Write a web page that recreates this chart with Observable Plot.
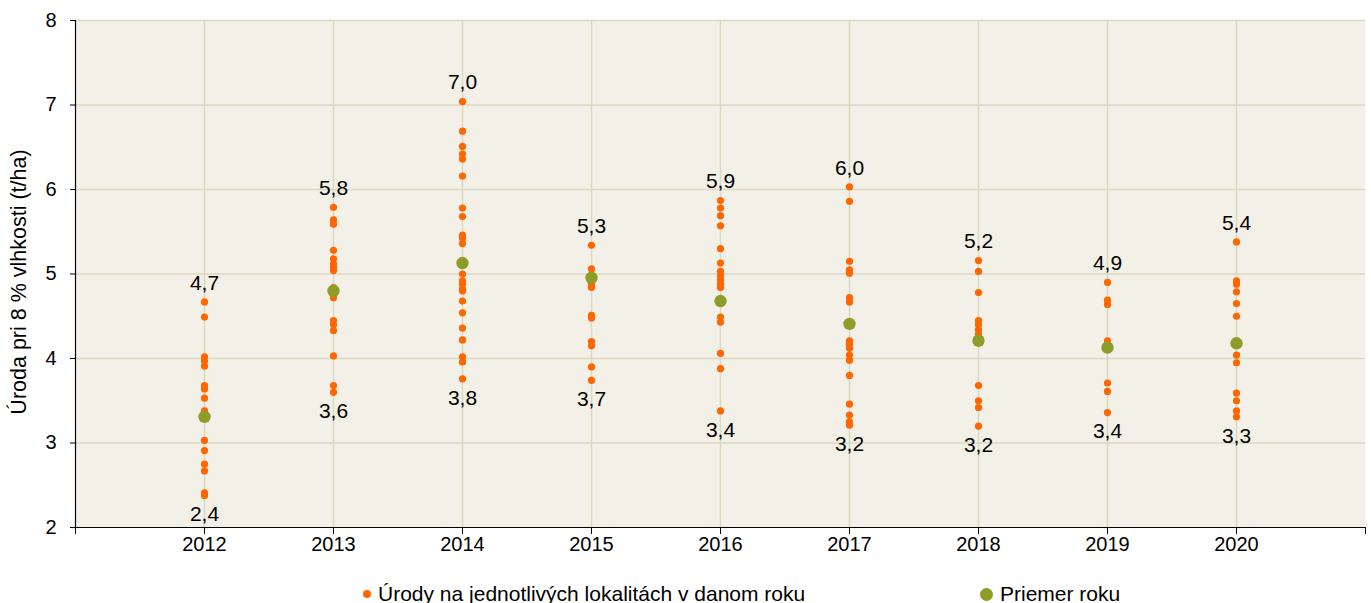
<!DOCTYPE html>
<html>
<head>
<meta charset="utf-8">
<script src="https://cdn.jsdelivr.net/npm/d3@7"></script>
<script src="https://cdn.jsdelivr.net/npm/@observablehq/plot@0.6"></script>
<style>
  html, body { margin: 0; padding: 0; background: #fff; }
  body { width: 1371px; height: 603px; position: relative; overflow: hidden; font-family: "Liberation Sans", Arial, sans-serif; }
  #legend { position: absolute; left: 0; top: 582px; width: 1371px; height: 25px; font-size: 21px; color: #000; }
  .item { position: absolute; top: 0px; display: flex; align-items: center; white-space: nowrap; }
  .sw { display: inline-block; border-radius: 50%; margin-right: 7px; }
</style>
</head>
<body>
<div id="chart"></div>
<div id="legend">
  <div class="item" style="left:363px"><span class="sw" style="width:8px;height:8px;background:#FF6600"></span><span id="lg1"></span></div>
  <div class="item" style="left:980px"><span class="sw" style="width:13px;height:13px;background:#8E9D2A"></span><span id="lg2"></span></div>
</div>
<script>
const years = [2012, 2013, 2014, 2015, 2016, 2017, 2018, 2019, 2020];

const y2012 = [4.67, 4.49, 4.02, 3.97, 3.91, 3.68, 3.64, 3.53, 3.38, 3.03, 2.91, 2.75, 2.67, 2.41, 2.38];
const y2013 = [5.79, 5.64, 5.59, 5.28, 5.18, 5.12, 5.08, 5.04, 4.84, 4.72, 4.45, 4.40, 4.33, 4.03, 3.68, 3.60];
const y2014 = [7.04, 6.69, 6.51, 6.42, 6.36, 6.16, 5.78, 5.68, 5.46, 5.42, 5.36, 5.00, 4.92, 4.88, 4.82, 4.80, 4.68, 4.54, 4.36, 4.22, 4.02, 3.96, 3.76];
const y2015 = [5.34, 5.06, 4.88, 4.84, 4.51, 4.48, 4.20, 4.15, 3.90, 3.74];
const y2016 = [5.87, 5.78, 5.69, 5.57, 5.30, 5.13, 5.03, 4.98, 4.93, 4.88, 4.84, 4.49, 4.43, 4.06, 3.88, 3.38];
const y2017 = [6.03, 5.86, 5.15, 5.05, 5.01, 4.72, 4.67, 4.21, 4.17, 4.12, 4.04, 3.98, 3.80, 3.46, 3.33, 3.25, 3.21];
const y2018 = [5.16, 5.03, 4.78, 4.45, 4.40, 4.34, 4.29, 3.68, 3.50, 3.42, 3.20];
const y2019 = [4.90, 4.69, 4.64, 4.21, 3.71, 3.61, 3.36];
const y2020 = [5.38, 4.92, 4.88, 4.79, 4.65, 4.50, 4.04, 3.95, 3.59, 3.50, 3.38, 3.31];
const siteYields = [y2012, y2013, y2014, y2015, y2016, y2017, y2018, y2019, y2020];

const yearMeans = [3.31, 4.80, 5.13, 4.955, 4.68, 4.41, 4.21, 4.13, 4.18];
const maxLabels = [4.7, 5.8, 7.0, 5.3, 5.9, 6.0, 5.2, 4.9, 5.4];
const minLabels = [2.4, 3.6, 3.8, 3.7, 3.4, 3.2, 3.2, 3.4, 3.3];

const yTicks = [2, 3, 4, 5, 6, 7, 8];
const yTitle = "Úroda pri 8 % vlhkosti (t/ha)";
const legendSites = "Úrody na jednotlivých lokalitách v danom roku";
const legendMean = "Priemer roku";

document.getElementById("lg1").textContent = legendSites;
document.getElementById("lg2").textContent = legendMean;

const points = years.flatMap((yr, i) => siteYields[i].map(v => ({year: yr, value: v})));
const means = years.map((yr, i) => ({year: yr, value: yearMeans[i]}));
const fmt = v => d3.format(".1f")(v).replace(".", ",");
const maxData = years.map((yr, i) => ({year: yr, value: d3.max(siteYields[i]), label: fmt(maxLabels[i])}));
const minData = years.map((yr, i) => ({year: yr, value: d3.min(siteYields[i]), label: fmt(minLabels[i])}));

const grid = "#DCD8C2";

const chart = Plot.plot({
  width: 1371,
  height: 560,
  marginLeft: 75,
  marginRight: 6,
  marginTop: 20,
  marginBottom: 33,
  style: {fontFamily: "'Liberation Sans', Arial, sans-serif", fontSize: "20px", color: "#000", background: "transparent"},
  x: {domain: [2011, 2021], axis: null},
  y: {domain: [2, 8], axis: null},
  marks: [
    Plot.frame({fill: "#F3F0E7", stroke: null}),
    Plot.gridY(yTicks.slice(1), {stroke: grid, strokeOpacity: 1, strokeWidth: 1.5}),
    Plot.gridX(years, {stroke: grid, strokeOpacity: 1, strokeWidth: 1.5}),
    Plot.ruleX([2011], {stroke: "#000", strokeWidth: 1.2}),
    Plot.ruleY([2], {stroke: "#000", strokeWidth: 1.2}),
    Plot.axisY({ticks: yTicks, tickSize: 5, tickPadding: 14, label: null, fontSize: 20, tickFormat: d => String(d)}),
    Plot.axisX({ticks: d3.range(2011, 2022), tickSize: 7, tickPadding: 2, label: null, fontSize: 20,
      tickFormat: d => (d === 2011 || d === 2021) ? "" : String(d)}),
    Plot.dot(points, {x: "year", y: "value", r: 3.6, fill: "#FF6600", stroke: null}),
    Plot.dot(means, {x: "year", y: "value", r: 6.2, fill: "#8E9D2A", stroke: null}),
    Plot.text(maxData, {x: "year", y: "value", text: "label", dy: -19, fontSize: 21}),
    Plot.text(minData, {x: "year", y: "value", text: "label", dy: 19, fontSize: 21}),
    Plot.text([yTitle], {frameAnchor: "left", textAnchor: "middle", lineAnchor: "middle", rotate: -90, dx: -56, dy: 8, fontSize: 21.5})
  ]
});
document.getElementById("chart").appendChild(chart);
</script>
</body>
</html>
